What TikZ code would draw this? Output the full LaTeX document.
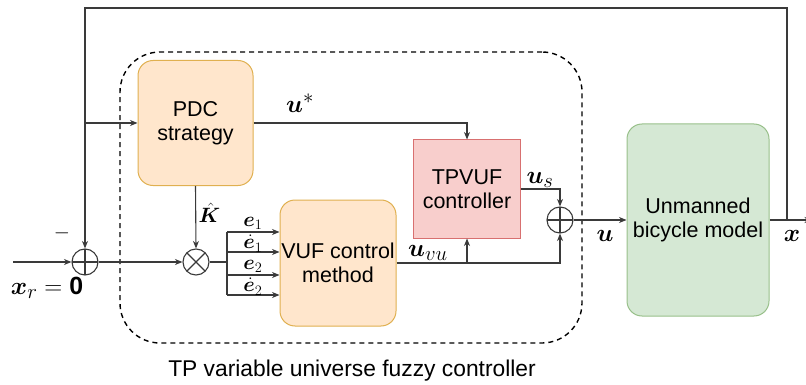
\documentclass[tikz,border=0pt]{standalone}
\usepackage{amsmath}
\usepackage{bm}
\usepackage{fontspec}
\setmainfont{Liberation Sans}
\usetikzlibrary{arrows.meta}
\definecolor{orfill}{HTML}{FFE6CC}
\definecolor{ordraw}{HTML}{E0B050}
\definecolor{rdfill}{HTML}{F8CECC}
\definecolor{rddraw}{HTML}{D87070}
\definecolor{grfill}{HTML}{D5E8D4}
\definecolor{grdraw}{HTML}{98C08A}
\definecolor{wire}{HTML}{3A3A3A}
\begin{document}
\begin{tikzpicture}[x=1pt,y=-1pt,
  txt/.style={font=\fontsize{21.5}{24}\selectfont, align=center},
  captxt/.style={font=\fontsize{22.8}{26}\selectfont},
  mlab/.style={font=\fontsize{24.88}{28}\selectfont, inner sep=0pt},
  slab/.style={font=\fontsize{20.74}{24}\selectfont, inner sep=0pt},
  block/.style={txt, draw, line width=1pt, rounded corners=15pt, inner sep=0pt},
  orbox/.style={block, fill=orfill, draw=ordraw},
  rdbox/.style={block, fill=rdfill, draw=rddraw, rounded corners=0pt},
  grbox/.style={block, fill=grfill, draw=grdraw},
  wireline/.style={draw=wire, line width=1.1pt},
  arr/.style={wireline, -{Stealth[length=7.5pt,width=6pt]}},
  sumnode/.style={circle, draw=wire, line width=1.1pt, minimum size=26pt, inner sep=0pt,
    path picture={\draw[wire, line width=1.1pt] (path picture bounding box.north) -- (path picture bounding box.south)
      (path picture bounding box.west) -- (path picture bounding box.east);}},
  mulnode/.style={circle, draw=wire, line width=1.1pt, minimum size=26pt, inner sep=0pt,
    path picture={\draw[wire, line width=1.1pt] (path picture bounding box.north west) -- (path picture bounding box.south east)
      (path picture bounding box.south west) -- (path picture bounding box.north east);}}
]
\useasboundingbox (0,0) rectangle (806,385);

% dashed enclosure
\node[draw=black, dash pattern=on 5pt off 4pt, line width=1.4pt, rounded corners=40pt,
  minimum width=462pt, minimum height=291pt, inner sep=0pt] (tpbox) at (351,197.5) {};
\node[captxt] (cap) at (352,371) {TP variable universe fuzzy controller};

% blocks
\node[orbox, minimum width=115pt, minimum height=125pt] (pdc) at (195.5,123) {PDC\\strategy};
\node[rdbox, minimum width=107pt, minimum height=98pt] (tpvuf) at (467,189) {TPVUF\\controller};
\node[orbox, minimum width=116pt, minimum height=126pt] (vuf) at (338,263) {VUF control\\method};
\node[grbox, minimum width=142pt, minimum height=192pt] (bike) at (698,220) {Unmanned\\bicycle model};

% junctions
\node[sumnode] (sum1) at (85,262) {};
\node[mulnode] (mul) at (196,262) {};
\node[sumnode] (sum2) at (560,220) {};

% coordinates
\coordinate (inp) at (13,262);
\coordinate (jx) at (787,220);
\coordinate (outend) at (812,220);
\coordinate (tr) at (787,8);
\coordinate (tl) at (85,8);
\coordinate (br) at (85,123);
\coordinate (ustar) at (467,123);
\coordinate (bus) at (227,262);
\coordinate (bus1) at (227,232);
\coordinate (bus2) at (227,252);
\coordinate (bus3) at (227,275);
\coordinate (bus4) at (227,295);
\coordinate (us) at (560,189);
\coordinate (uvu) at (560,263);
\coordinate (uvb) at (467,263);

% wires
\draw[arr] (inp) -- (sum1.west);
\draw[arr] (bike.east) -- (outend);
\draw[arr] (jx) -- (tr) -- (tl) -- (sum1.north);
\draw[arr] (br) -- (pdc.west);
\draw[arr] (sum1.east) -- (mul.west);
\draw[arr] (pdc.south) -- (mul.north);
\draw[wireline] (mul.east) -- (bus);
\draw[wireline] (bus1) -- (bus4);
\draw[arr] (bus1) -- (vuf.west |- bus1);
\draw[arr] (bus2) -- (vuf.west |- bus2);
\draw[arr] (bus3) -- (vuf.west |- bus3);
\draw[arr] (bus4) -- (vuf.west |- bus4);
\draw[arr] (pdc.east |- ustar) -- (ustar) -- (tpvuf.north);
\draw[arr] (tpvuf.east |- us) -- (us) -- (sum2.north);
\draw[arr] (vuf.east |- uvu) -- (uvu) -- (sum2.south);
\draw[arr] (uvb) -- (tpvuf.south);
\draw[arr] (sum2.east) -- (bike.west);

% labels
\node[mlab] (lxr) at (47,288) {$\bm{x}_r=\mathbf{0}$};
\node[slab] (lminus) at (62,233) {$-$};
\node[slab, anchor=west] (lk) at (198.5,213) {$\hat{\bm{K}}$};
\node[slab] (le1) at (253,223.5) {$\bm{e}_1$};
\node[slab] (led1) at (253,243.5) {$\dot{\bm{e}}_1$};
\node[slab] (le2) at (253,266.5) {$\bm{e}_2$};
\node[slab] (led2) at (253,286.5) {$\dot{\bm{e}}_2$};
\node[mlab] (lustar) at (300,103) {$\bm{u}^*$};
\node[mlab] (lus) at (540,180) {$\bm{u}_s$};
\node[mlab] (luvu) at (428,253) {$\bm{u}_{vu}$};
\node[mlab] (lu) at (605,236) {$\bm{u}$};
\node[mlab] (lx) at (792,236) {$\bm{x}$};
\end{tikzpicture}
\end{document}
